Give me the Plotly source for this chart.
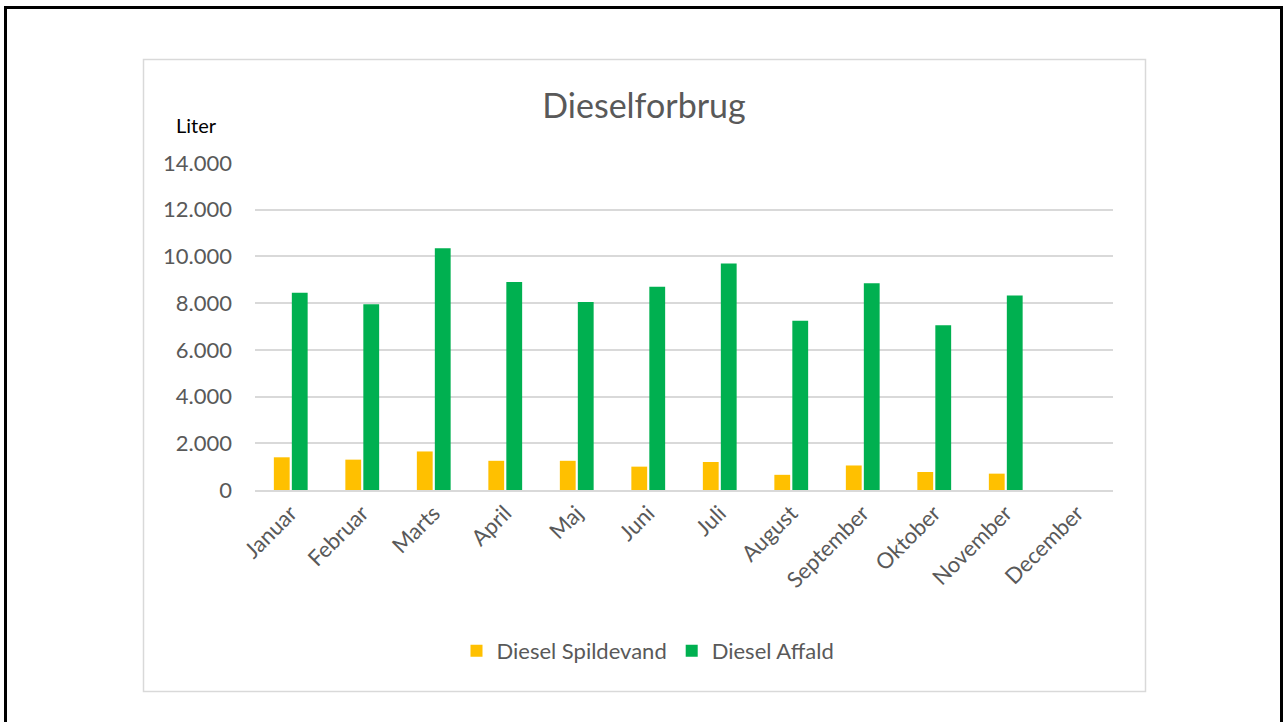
import plotly.graph_objects as go

months = ["Januar", "Februar", "Marts", "April", "Maj", "Juni", "Juli",
          "August", "September", "Oktober", "November", "December"]
spildevand = [1400, 1300, 1650, 1250, 1250, 1000, 1200, 650, 1050, 770, 700, None]
affald = [8450, 7950, 10350, 8900, 8050, 8700, 9700, 7250, 8850, 7050, 8330, None]
y_ticks = [0, 2000, 4000, 6000, 8000, 10000, 12000, 14000]

W, H = 1284, 722
L, R, T, B = 255, 1113, 163, 490  # plot area in pixels

def px_x(x):
    return (x - L) / (R - L)

def px_y(y):
    return (B - y) / (B - T)

FONT = "Lato"
GRAY = "#595959"

fig = go.Figure()
fig.add_trace(go.Bar(name="Diesel Spildevand", x=months, y=spildevand,
                     marker=dict(color="#FFC000", line=dict(width=0))))
fig.add_trace(go.Bar(name="Diesel Affald", x=months, y=affald,
                     marker=dict(color="#00B050", line=dict(width=0))))

fig.update_layout(
    width=W, height=H,
    margin=dict(l=L, r=W - R, t=T, b=H - B, pad=0),
    paper_bgcolor="white", plot_bgcolor="white",
    separators=",.",
    barmode="group", bargap=0.497, bargroupgap=0.12,
    font=dict(family=FONT, color=GRAY),
    title=dict(text="Dieselforbrug", x=644 / W, xref="container", xanchor="center",
               y=1 - 106 / H, yref="container", yanchor="middle",
               font=dict(family=FONT, size=34, color=GRAY)),
    showlegend=True,
    legend=dict(orientation="h", xref="container", yref="container",
                x=648 / W, xanchor="center", y=1 - 651 / H, yanchor="middle",
                font=dict(family=FONT, size=22, color=GRAY), itemwidth=30),
    xaxis=dict(tickangle=-45, tickfont=dict(family=FONT, size=22, color=GRAY),
               showgrid=False, showline=True, linecolor="#D9D9D9", linewidth=1.5,
               ticks=""),
    yaxis=dict(range=[0, 14000], tickvals=y_ticks, tickformat=",d",
               tickfont=dict(family=FONT, size=22, color=GRAY),
               showgrid=True, gridcolor="#D9D9D9", gridwidth=1.5,
               zeroline=False, showline=False, ticks="", ticklabelstandoff=22),
)

# outer black frame and chart border
fig.add_shape(type="rect", xref="paper", yref="paper",
              x0=px_x(5.5), x1=px_x(1281.5), y0=px_y(740), y1=px_y(7.5),
              line=dict(color="black", width=3), fillcolor="rgba(0,0,0,0)", layer="below")
fig.add_shape(type="rect", xref="paper", yref="paper",
              x0=px_x(143.5), x1=px_x(1145.5), y0=px_y(691.5), y1=px_y(59.5),
              line=dict(color="#D9D9D9", width=1.5), fillcolor="rgba(0,0,0,0)", layer="below")

fig.add_annotation(text="Liter", xref="paper", yref="paper",
                   x=px_x(174), y=px_y(125), xanchor="left", yanchor="middle",
                   showarrow=False, font=dict(family=FONT, size=20, color="black"))

fig.write_html("out.html", config={"displayModeBar": False},
               post_script="document.body.style.margin='0';")
